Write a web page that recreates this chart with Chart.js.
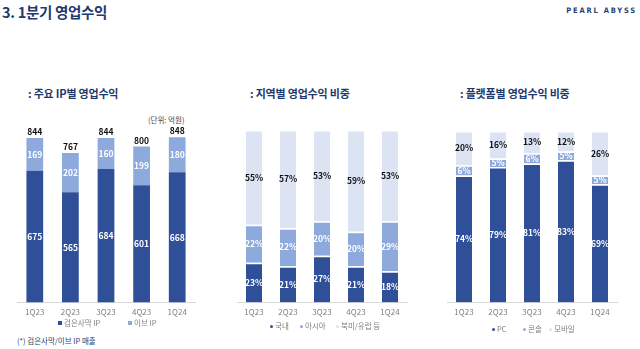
<!DOCTYPE html>
<html>
<head>
<meta charset="utf-8">
<script src="https://cdn.jsdelivr.net/npm/chart.js@4.4.1/dist/chart.umd.min.js"></script>
<style>
  body { margin: 0; background: #fff; font-family: "Noto Sans CJK KR", "Noto Sans", sans-serif; }
  #page { position: relative; width: 640px; height: 349px; overflow: hidden; }
  .title { position: absolute; left: 2px; top: 1px; font-size: 14.5px; font-weight: 700; color: #1f3a6e; letter-spacing: -0.3px; }
  .brand { position: absolute; right: 3px; top: 6px; white-space: nowrap; font-family: "DejaVu Sans Condensed", "Liberation Sans Narrow", sans-serif; font-size: 7.5px; font-weight: 700; color: #2a4170; letter-spacing: 1.8px; }
  .sub { position: absolute; top: 85px; font-size: 11px; font-weight: 700; color: #1f3a6e; letter-spacing: -0.2px; white-space: nowrap; }
  .unit { position: absolute; left: 148px; top: 114px; font-size: 7.5px; color: #444; }
  .note { position: absolute; left: 17px; top: 335px; font-size: 7.5px; color: #2a4170; }
  .box { position: absolute; }
  .legend { position: absolute; font-size: 7.5px; color: #7f7f7f; white-space: nowrap; }
  .legend span { position: absolute; top: 0; }
  .legend i { display: inline-block; width: 4px; height: 4px; margin-right: 2px; vertical-align: 1px; }
  .legend.dots i { width: 3px; height: 3px; border-radius: 50%; }
</style>
</head>
<body>
<div id="page">
  <div class="title">3. 1분기 영업수익</div>
  <div class="brand">PEARL ABYSS</div>

  <div class="sub" style="left:28px">: 주요 IP별 영업수익</div>
  <div class="sub" style="left:250px">: 지역별 영업수익 비중</div>
  <div class="sub" style="left:460px">: 플랫폼별 영업수익 비중</div>
  <div class="unit">(단위: 억원)</div>
  <div class="note">(*) 검은사막/이브 IP 매출</div>

  <div class="box" style="left:0px;top:110px;width:210px;height:216px"><canvas id="ipChart"></canvas></div>
  <div class="box" style="left:225px;top:110px;width:195px;height:216px"><canvas id="regionChart"></canvas></div>
  <div class="box" style="left:435px;top:110px;width:200px;height:216px"><canvas id="platformChart"></canvas></div>

  <div class="legend" id="ipLegend" style="left:0;top:317px"></div>
  <div class="legend dots" id="regionLegend" style="left:0;top:320px"></div>
  <div class="legend dots" id="platformLegend" style="left:0;top:323px"></div>
</div>

<script>
// quarters shared by all three charts
const quarters = ["1Q23", "2Q23", "3Q23", "4Q23", "1Q24"];

// 주요 IP별 영업수익 (억원)
const blackDesert = [675, 565, 684, 601, 668];
const eve = [169, 202, 160, 199, 180];
const ipTotals = [844, 767, 844, 800, 848];

// 지역별 비중 (%)
const domestic = [23, 21, 27, 21, 18];
const asia = [22, 22, 20, 20, 29];
const naEu = [55, 57, 53, 59, 53];

// 플랫폼별 비중 (%)
const pc = [74, 79, 81, 83, 69];
const consoleShare = [6, 5, 6, 5, 5];
const mobile = [20, 16, 13, 12, 26];

const DARK = "#2f4f98";
const MID = "#8eaadc";
const LIGHT = "#dce3f3";
const FONT = "'Noto Sans CJK KR', 'Noto Sans', sans-serif";

// draws value text in the middle of each bar segment (+ optional totals on top)
const segmentLabels = {
  id: "segmentLabels",
  afterDatasetsDraw(chart, args, opts) {
    const ctx = chart.ctx;
    ctx.save();
    ctx.font = "700 8.5px " + FONT;
    ctx.textAlign = "center";
    ctx.textBaseline = "middle";
    chart.data.datasets.forEach((ds, i) => {
      const meta = chart.getDatasetMeta(i);
      meta.data.forEach((bar, j) => {
        ctx.fillStyle = ds.labelColor || "#fff";
        ctx.fillText(ds.data[j] + (opts.suffix || ""), bar.x, (bar.y + bar.base) / 2);
      });
    });
    if (opts.totals) {
      const last = chart.getDatasetMeta(chart.data.datasets.length - 1);
      ctx.fillStyle = "#111";
      last.data.forEach((bar, j) => {
        ctx.fillText(opts.totals[j], bar.x, bar.y - 6);
      });
    }
    ctx.restore();
  }
};

function stackedOptions(max, padding, labelOpts) {
  return {
    responsive: true,
    maintainAspectRatio: false,
    animation: false,
    layout: { padding },
    scales: {
      x: {
        stacked: true,
        grid: { display: false, drawTicks: false },
        border: { color: "#d9d9d9" },
        ticks: { color: "#7f7f7f", font: { family: FONT, size: 8 }, padding: 5 }
      },
      y: { stacked: true, display: false, min: 0, max }
    },
    plugins: {
      tooltip: { enabled: false },
      legend: { display: false },
      segmentLabels: labelOpts
    }
  };
}

function barSet(label, data, color, extra) {
  return Object.assign({
    label,
    data,
    backgroundColor: color,
    barPercentage: 0.96,
    categoryPercentage: 0.49
  }, extra);
}

// legend row built from the chart's datasets, each entry placed at its own x
function buildLegend(chart, elId, xs) {
  const el = document.getElementById(elId);
  chart.data.datasets.forEach((ds, i) => {
    const s = document.createElement("span");
    s.style.left = xs[i] + "px";
    s.innerHTML = '<i style="background:' + ds.backgroundColor + '"></i>' + ds.label;
    el.appendChild(s);
  });
}

const ipChart = new Chart(document.getElementById("ipChart"), {
  type: "bar",
  data: {
    labels: quarters,
    datasets: [
      barSet("검은사막 IP", blackDesert, DARK),
      barSet("이브 IP", eve, MID)
    ]
  },
  options: stackedOptions(900, { left: 17, right: 15, top: 17, bottom: 4 }, { totals: ipTotals }),
  plugins: [segmentLabels]
});

const sep = { borderColor: "#fff", borderWidth: { top: 1.5 }, borderSkipped: false };

const regionChart = new Chart(document.getElementById("regionChart"), {
  type: "bar",
  data: {
    labels: quarters,
    datasets: [
      barSet("국내", domestic, DARK, sep),
      barSet("아시아", asia, MID, sep),
      barSet("북미/유럽 등", naEu, LIGHT, Object.assign({ labelColor: "#111" }, sep))
    ]
  },
  options: stackedOptions(100, { left: 12, right: 13, top: 20, bottom: 4 }, { suffix: "%" }),
  plugins: [segmentLabels]
});

const platformChart = new Chart(document.getElementById("platformChart"), {
  type: "bar",
  data: {
    labels: quarters,
    datasets: [
      barSet("PC", pc, DARK, sep),
      barSet("콘솔", consoleShare, MID, sep),
      barSet("모바일", mobile, LIGHT, Object.assign({ labelColor: "#111" }, sep))
    ]
  },
  options: stackedOptions(100, { left: 12, right: 18, top: 21, bottom: 4 }, { suffix: "%" }),
  plugins: [segmentLabels]
});

buildLegend(ipChart, "ipLegend", [58, 128]);
buildLegend(regionChart, "regionLegend", [270, 300, 336]);
buildLegend(platformChart, "platformLegend", [492, 523, 549]);
</script>
</body>
</html>
